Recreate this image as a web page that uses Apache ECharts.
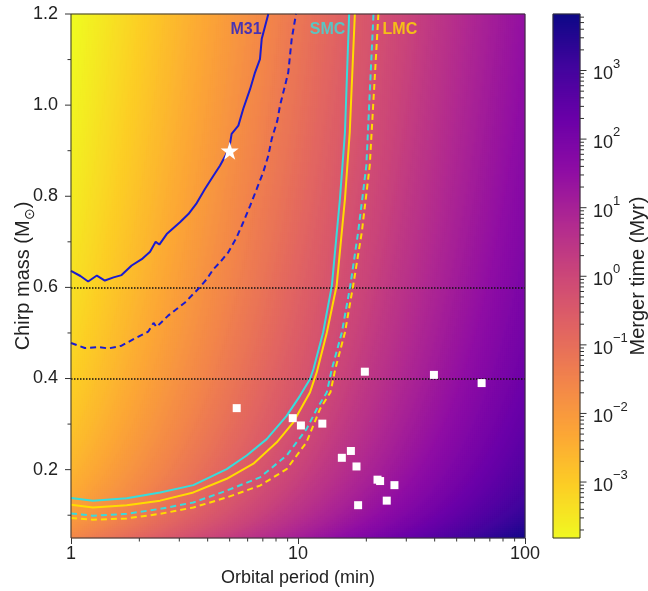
<!DOCTYPE html>
<html>
<head>
<meta charset="utf-8">
<title>Merger time</title>
<script src="https://cdn.jsdelivr.net/npm/echarts@6/dist/echarts.min.js"></script>
<style>
  html, body { margin: 0; padding: 0; background: #fff; }
  #main { width: 648px; height: 591px; }
</style>
</head>
<body>
<div id="main"></div>
<script>
// axis ranges
var periodRange = [1, 100];          // orbital period, min
var massRange = [0.05, 1.2];         // chirp mass, Msun
var cbRange = [-3.816, 3.824];       // log10 merger time (Myr) at the colour bar ends

// detection limits, [period (min), chirp mass]
var m31Solid = [[1.0,0.636],[1.1,0.625],[1.19,0.613],[1.30,0.626],[1.41,0.615],[1.54,0.622],[1.67,0.627],[1.85,0.648],[2.05,0.662],[2.23,0.678],[2.36,0.700],[2.45,0.694],[2.64,0.717],[3.02,0.743],[3.29,0.761],[3.58,0.785],[3.89,0.816],[4.24,0.845],[4.53,0.867],[4.98,0.905],[5.10,0.937],[5.46,0.955],[5.74,0.992],[6.15,1.035],[6.47,1.072],[6.80,1.101],[6.92,1.145],[7.40,1.2]];
var m31Dashed = [[1.0,0.478],[1.15,0.467],[1.32,0.469],[1.46,0.466],[1.67,0.472],[1.91,0.488],[2.19,0.503],[2.31,0.522],[2.38,0.513],[2.68,0.538],[3.18,0.567],[3.64,0.597],[3.96,0.618],[4.24,0.640],[4.53,0.655],[4.93,0.677],[5.37,0.710],[5.74,0.743],[6.15,0.779],[6.58,0.816],[7.03,0.853],[7.40,0.889],[7.66,0.926],[8.11,0.966],[8.33,0.999],[8.77,1.043],[9.06,1.072],[9.38,1.145],[9.80,1.2]];
var smcSolid = [[1.0,0.138],[1.25,0.132],[1.76,0.137],[2.47,0.150],[3.46,0.166],[4.85,0.201],[5.94,0.231],[7.28,0.267],[8.91,0.318],[10.2,0.362],[11.3,0.399],[11.7,0.421],[12.9,0.501],[14.1,0.604],[15.3,0.794],[16.1,0.94],[16.8,1.2]];
var lmcSolid = [[1.0,0.123],[1.25,0.117],[1.76,0.122],[2.47,0.132],[3.46,0.150],[4.85,0.180],[6.36,0.213],[8.06,0.260],[9.53,0.304],[11.3,0.370],[12.1,0.414],[13.4,0.501],[14.8,0.604],[16.1,0.794],[16.9,0.94],[17.8,1.2]];
var smcDashed = [[1.0,0.104],[1.25,0.099],[1.76,0.103],[2.47,0.114],[3.46,0.128],[4.85,0.154],[6.80,0.183],[8.91,0.231],[10.9,0.289],[12.1,0.333],[13.4,0.370],[14.1,0.421],[15.6,0.501],[17.0,0.604],[18.4,0.721],[20.0,0.867],[21.5,1.2]];
var lmcDashed = [[1.0,0.094],[1.25,0.090],[1.76,0.093],[2.47,0.103],[3.46,0.117],[4.85,0.139],[6.80,0.165],[8.91,0.201],[10.9,0.260],[12.5,0.333],[13.9,0.370],[14.6,0.421],[16.1,0.501],[17.5,0.604],[19.1,0.721],[20.7,0.867],[22.6,1.2]];

var refMasses = [0.6, 0.4];
var starPoint = [[5.0, 0.9]];
var sources = [[19.7,0.415],[39.7,0.408],[64.4,0.390],[9.48,0.313],[10.3,0.297],[12.8,0.301],[17.1,0.241],[15.6,0.226],[18.1,0.207],[22.4,0.178],[23.0,0.175],[26.6,0.166],[24.6,0.132],[18.4,0.122],[5.37,0.335]];

var regionNames = ['M31', 'SMC', 'LMC'];
var regionLabelPos = [[5.9, 1.165], [13.5, 1.165], [28.1, 1.165]];
var regionColors = ['#1b1bd0', '#38dcdc', '#ffdc00'];

// plasma, reversed (short merger time = yellow)
var plasmaR = ['#f0f921','#fcce25','#fca636','#f2844b','#e16462','#cc4778','#b12a90','#8f0da4','#6a00a8','#41049d','#0d0887'];

var fontFam = "'Liberation Sans', Arial, sans-serif";

// layout
var plotBox = { left: 71, top: 14, width: 454, height: 524 };
var cbBox = { left: 553, top: 14, width: 27, height: 524 };

// GW merger time of a circular binary
function mergerTimeMyr(pMin, mc) {
    var tSun = 4.925e-6;   // G Msun / c^3 in s
    var p = pMin * 60;
    var tau = 5 / 256 * Math.pow(tSun * mc, -5 / 3) * Math.pow(p / (2 * Math.PI), 8 / 3);
    return tau / 3.156e13;
}

// background field, 2px cells
var nx = 227, ny = 262;
var heatX = [], heatY = [], heatData = [];
var lp0 = Math.log10(periodRange[0]), lp1 = Math.log10(periodRange[1]);
for (var i = 0; i < nx; i++) heatX.push(i);
for (var j = 0; j < ny; j++) heatY.push(j);
for (i = 0; i < nx; i++) {
    var per = Math.pow(10, lp0 + (i + 0.5) / nx * (lp1 - lp0));
    for (j = 0; j < ny; j++) {
        var mc = massRange[0] + (j + 0.5) / ny * (massRange[1] - massRange[0]);
        var v = Math.log10(mergerTimeMyr(per, mc));
        v = Math.max(cbRange[0], Math.min(cbRange[1], v));
        heatData.push([i, j, v]);
    }
}

// colour bar cells
var ncb = 262;
var cbY = [], cbData = [];
for (j = 0; j < ncb; j++) {
    cbY.push(j);
    cbData.push([0, j, cbRange[0] + (j + 0.5) / ncb * (cbRange[1] - cbRange[0])]);
}

// tick marks: [x, y, kind, length]; kind 0 = bottom axis, 1 = left axis, 2 = colour bar
var mainTicks = [];
[1, 10].forEach(function (d) {
    for (var k = 2; k <= 9; k++) mainTicks.push([k * d, massRange[0], 0, 3.5]);
});
for (var m = 1; m <= 6; m++) mainTicks.push([1, m * 0.2, 1, 6]);
for (m = 0; m < 6; m++) mainTicks.push([1, 0.1 + m * 0.2, 1, 3.5]);
// colour bar shares the plot's rows, so its log10 scale is mapped onto the mass axis
for (var e = -4; e <= 3; e++) {
    for (var k = 1; k <= 9; k++) {
        var lv = Math.log10(k * Math.pow(10, e));
        if (lv <= cbRange[0] || lv >= cbRange[1]) continue;
        var mEq = massRange[0] + (lv - cbRange[0]) / (cbRange[1] - cbRange[0]) * (massRange[1] - massRange[0]);
        mainTicks.push([1, mEq, 2, k === 1 ? 6.5 : 4]);
    }
}

var myChart = echarts.init(document.getElementById('main'));

var option = {
    animation: false,
    backgroundColor: '#fff',
    textStyle: { fontFamily: fontFam },
    grid: [
        { left: plotBox.left, top: plotBox.top, width: plotBox.width, height: plotBox.height,
          show: true, borderColor: '#333', borderWidth: 1,
          backgroundColor: 'transparent', z: 10, containLabel: false, outerBoundsMode: 'none' },
        { left: cbBox.left, top: cbBox.top, width: cbBox.width, height: cbBox.height,
          show: true, borderColor: '#333', borderWidth: 1,
          backgroundColor: 'transparent', z: 10, containLabel: false, outerBoundsMode: 'none' }
    ],
    visualMap: {
        type: 'continuous',
        show: false,
        min: cbRange[0],
        max: cbRange[1],
        dimension: 2,
        seriesIndex: [0, 1],
        inRange: { color: plasmaR }
    },
    xAxis: [
        {
            type: 'log', gridIndex: 0, logBase: 10,
            min: periodRange[0], max: periodRange[1],
            axisLine: { show: false },
            axisTick: { show: true, length: 6, lineStyle: { color: '#333' } },
            axisLabel: { fontSize: 18, color: '#222', margin: 7, fontFamily: fontFam },
            splitLine: { show: false },
            name: 'Orbital period (min)',
            nameLocation: 'middle',
            nameGap: 31,
            nameMoveOverlap: false,
            nameTextStyle: { fontSize: 18, color: '#222', fontFamily: fontFam }
        },
        { type: 'category', gridIndex: 0, data: heatX, show: false, position: 'top' },
        { type: 'category', gridIndex: 1, data: ['cb'], show: false }
    ],
    yAxis: [
        {
            type: 'value', gridIndex: 0,
            min: massRange[0], max: massRange[1],
            axisLine: { show: false },
            axisTick: { show: false },
            axisLabel: {
                fontSize: 18, color: '#222', margin: 13, fontFamily: fontFam,
                showMinLabel: false,
                formatter: function (v) { return v.toFixed(1); }
            },
            splitLine: { show: false },
            name: '{a|Chirp mass (M}{s|⊙}{a|)}',
            nameLocation: 'middle',
            nameGap: 34,
            nameMoveOverlap: false,
            nameTextStyle: {
                color: '#222',
                rich: {
                    a: { fontSize: 20, color: '#222', fontFamily: fontFam, lineHeight: 24, verticalAlign: 'top' },
                    s: { fontSize: 14, color: '#222', fontFamily: fontFam, verticalAlign: 'bottom' }
                }
            }
        },
        { type: 'category', gridIndex: 0, data: heatY, show: false, position: 'right' },
        { type: 'category', gridIndex: 1, data: cbY, show: false },
        {
            type: 'log', gridIndex: 1, logBase: 10, position: 'right',
            min: Math.pow(10, cbRange[0]), max: Math.pow(10, cbRange[1]),
            axisLine: { show: false },
            axisTick: { show: false },
            splitLine: { show: false },
            axisLabel: {
                margin: 13,
                formatter: function (v) {
                    var lg = Math.log10(v);
                    var ex = Math.round(lg);
                    if (Math.abs(lg - ex) > 1e-6) return '';
                    return '{b|10}{s|' + (ex < 0 ? '\u2212' : '') + Math.abs(ex) + '}';
                },
                rich: {
                    b: { fontSize: 18, color: '#222', fontFamily: fontFam, lineHeight: 26, verticalAlign: 'bottom' },
                    s: { fontSize: 13, color: '#222', fontFamily: fontFam, lineHeight: 14, verticalAlign: 'top' }
                }
            },
            name: 'Merger time (Myr)',
            nameLocation: 'middle',
            nameRotate: 90,
            nameGap: 48,
            nameMoveOverlap: false,
            nameTextStyle: { fontSize: 20, color: '#222', fontFamily: fontFam }
        }
    ],
    series: [
        {
            type: 'heatmap', xAxisIndex: 1, yAxisIndex: 1,
            data: heatData, progressive: 0, silent: true,
            emphasis: { disabled: true }
        },
        {
            type: 'heatmap', xAxisIndex: 2, yAxisIndex: 2,
            data: cbData, progressive: 0, silent: true,
            emphasis: { disabled: true }
        },
        {
            name: 'M31', type: 'line', data: m31Solid, symbol: 'none', z: 5,
            lineStyle: { color: regionColors[0], width: 2 },
            markLine: {
                silent: true, symbol: ['none', 'none'], label: { show: false },
                lineStyle: { color: '#111', type: 'dotted', width: 1.5 },
                data: refMasses.map(function (y) { return { yAxis: y }; })
            }
        },
        { name: 'M31 dashed', type: 'line', data: m31Dashed, symbol: 'none', z: 5,
          lineStyle: { color: regionColors[0], width: 2, type: [6, 4] } },
        { name: 'LMC', type: 'line', data: lmcSolid, symbol: 'none', z: 5,
          lineStyle: { color: regionColors[2], width: 2 } },
        { name: 'LMC dashed', type: 'line', data: lmcDashed, symbol: 'none', z: 5,
          lineStyle: { color: regionColors[2], width: 2, type: [6, 4] } },
        { name: 'SMC', type: 'line', data: smcSolid, symbol: 'none', z: 5,
          lineStyle: { color: regionColors[1], width: 2 } },
        { name: 'SMC dashed', type: 'line', data: smcDashed, symbol: 'none', z: 5,
          lineStyle: { color: regionColors[1], width: 2, type: [6, 4] } },
        {
            type: 'scatter', data: sources, symbol: 'rect', symbolSize: 8, z: 6,
            itemStyle: { color: '#fff', opacity: 1 }
        },
        {
            type: 'scatter', data: starPoint, z: 6, symbolSize: 18,
            symbol: 'path://M50,0 L61.2,34.5 L97.6,34.5 L68.2,55.9 L79.4,90.5 L50,69.1 L20.6,90.5 L31.8,55.9 L2.4,34.5 L38.8,34.5 Z',
            itemStyle: { color: '#fff', opacity: 1 }
        },
        {
            type: 'scatter', z: 7, symbolSize: 1, silent: true,
            itemStyle: { color: 'rgba(0,0,0,0)' },
            data: regionNames.map(function (n, k) {
                return {
                    name: n, value: regionLabelPos[k],
                    label: { show: true, position: 'inside', formatter: n, color: regionColors[k],
                             fontSize: 16, fontWeight: 'bold', fontFamily: fontFam }
                };
            })
        },
        {
            type: 'custom', xAxisIndex: 0, yAxisIndex: 0, clip: false, silent: true, z: 11,
            encode: { x: 0, y: 1 },
            data: mainTicks,
            renderItem: function (params, api) {
                var pt = api.coord([api.value(0), api.value(1)]);
                var kind = api.value(2);
                var len = api.value(3);
                var shape;
                if (kind === 0) {
                    shape = { x1: pt[0], y1: pt[1], x2: pt[0], y2: pt[1] + len };
                } else if (kind === 1) {
                    shape = { x1: pt[0], y1: pt[1], x2: pt[0] - len, y2: pt[1] };
                } else {
                    var xr = cbBox.left + cbBox.width;
                    shape = { x1: xr, y1: pt[1], x2: xr + len, y2: pt[1] };
                }
                return { type: 'line', shape: shape, style: { stroke: '#333', lineWidth: 1 } };
            }
        }
    ]
};

myChart.setOption(option);
window.onresize = function () { myChart.resize(); };
</script>
</body>
</html>
